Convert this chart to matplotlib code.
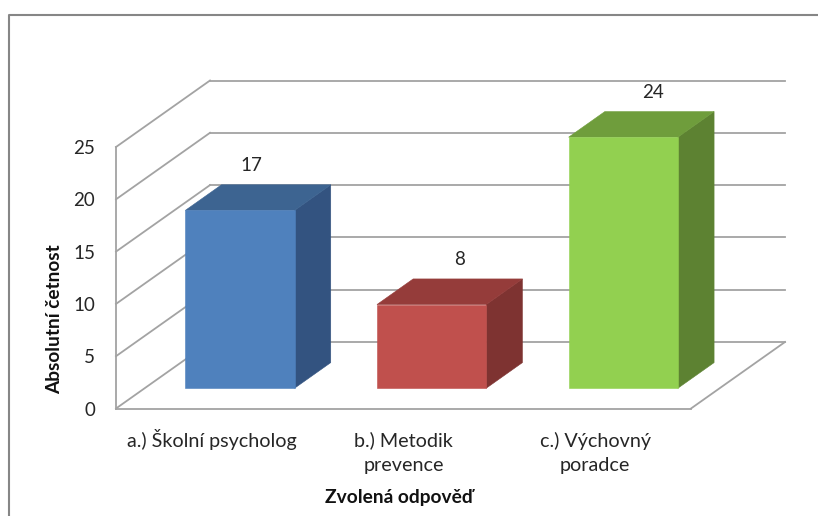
import matplotlib
matplotlib.use("Agg")
import matplotlib.pyplot as plt
from matplotlib.lines import Line2D
from matplotlib.patches import Polygon
from matplotlib.transforms import ScaledTranslation

plt.rcParams['font.family'] = ['Lato', 'DejaVu Sans']

categories = ["a.) Školní psycholog", "b.) Metodik\nprevence", "c.) Výchovný\nporadce"]
values = [17, 8, 24]
y_ticks = [0, 5, 10, 15, 20, 25]
y_label = "Absolutní četnost"
x_label = "Zvolená odpověď"

front_colors = ["#4F81BD", "#C0504D", "#92D050"]
top_colors = ["#3D6491", "#953C3A", "#6F9D3C"]
side_colors = ["#335380", "#7E3331", "#5D8232"]
GRID = "#A3A3A3"
TEXT = "#262626"

W, H = 818, 516
L, R, T, B = 116, 691, 147, 408.5          # front plane, in pixels

fig = plt.figure(figsize=(W / 100, H / 100), dpi=100, facecolor="white")
ax = fig.add_axes([L / W, 1 - B / H, (R - L) / W, (B - T) / H])
ax.set_xlim(0, 3)
ax.set_ylim(0, 25)
ax.patch.set_visible(False)
for s in ax.spines.values():
    s.set_visible(False)

# depth vector of the full chart box, in data units
DX = 94 / ((R - L) / 3)
DY = 66.5 / ((B - T) / 25)
BAR_W = 0.57
D0, D1 = 0.305, 0.69


def pt(x, y, d):
    return (x + DX * d, y + DY * d)


def line(a, b):
    ax.add_line(Line2D([a[0], b[0]], [a[1], b[1]], color=GRID, lw=1.3,
                       clip_on=False, zorder=1, solid_capstyle="projecting"))


for t in y_ticks:
    line(pt(0, t, 0), pt(0, t, 1))
    line(pt(0, t, 1), pt(3, t, 1))
line(pt(0, 0, 0), pt(0, y_ticks[-1], 0))
line(pt(0, 0, 0), pt(3, 0, 0))
line(pt(3, 0, 0), pt(3, 0, 1))

for i, v in enumerate(values):
    x0 = i + 0.5 - BAR_W / 2 - 0.003
    x1 = i + 0.5 + BAR_W / 2 - 0.003
    front = [pt(x0, 0, D0), pt(x1, 0, D0), pt(x1, v, D0), pt(x0, v, D0)]
    top = [pt(x0, v, D0), pt(x1, v, D0), pt(x1, v, D1), pt(x0, v, D1)]
    side = [pt(x1, 0, D0), pt(x1, 0, D1), pt(x1, v, D1), pt(x1, v, D0)]
    for poly, col in ((side, side_colors[i]), (top, top_colors[i]), (front, front_colors[i])):
        ax.add_patch(Polygon(poly, closed=True, facecolor=col, edgecolor=col, lw=0.4,
                             clip_on=False, zorder=3))

# value labels sit above the bar tops
label_shift_x = [11, 27, 29]
for i, v in enumerate(values):
    x, y = pt(i + 0.5, v, D0)
    ax.annotate(str(v), (x, y), xytext=(label_shift_x[i] * 0.72, 45 * 0.72),
                textcoords="offset points", ha="center", va="center",
                fontsize=13.5, color=TEXT, annotation_clip=False, zorder=5)

ax.set_yticks(y_ticks)
ax.set_xticks([0.5, 1.5, 2.5])
ax.set_xticklabels(categories, linespacing=1.5)
ax.tick_params(axis="y", length=0, pad=15, labelsize=13.5, labelcolor=TEXT)
ax.tick_params(axis="x", length=0, pad=16, labelsize=14.2, labelcolor=TEXT)
# line the first rows of the labels up on one baseline
tick_label_dy = [2, -1, -1]
for lab, dy in zip(ax.get_xticklabels(), tick_label_dy):
    lab.set_transform(lab.get_transform() + ScaledTranslation(0, dy / 100, fig.dpi_scale_trans))

ax.set_xlabel(x_label, fontsize=13.8, fontweight="bold", color="#111111")
ax.xaxis.set_label_coords((399 - L) / (R - L), (B - 498) / (B - T))
ax.xaxis.label.set_va("center")
ax.set_ylabel(y_label, fontsize=13.7, fontweight="bold", color="#111111")
ax.yaxis.set_label_coords((55 - L) / (R - L), (B - 319) / (B - T))
ax.yaxis.label.set_va("center")

# outer chart frame: only left and top are inside the crop
fx = 9 / W
fy = 1 - 15 / H
fig.add_artist(Line2D([fx, fx, 1], [0, fy, fy], color="#868686", lw=1.5, transform=fig.transFigure))

fig.savefig("out.png", dpi=100, facecolor="white")
